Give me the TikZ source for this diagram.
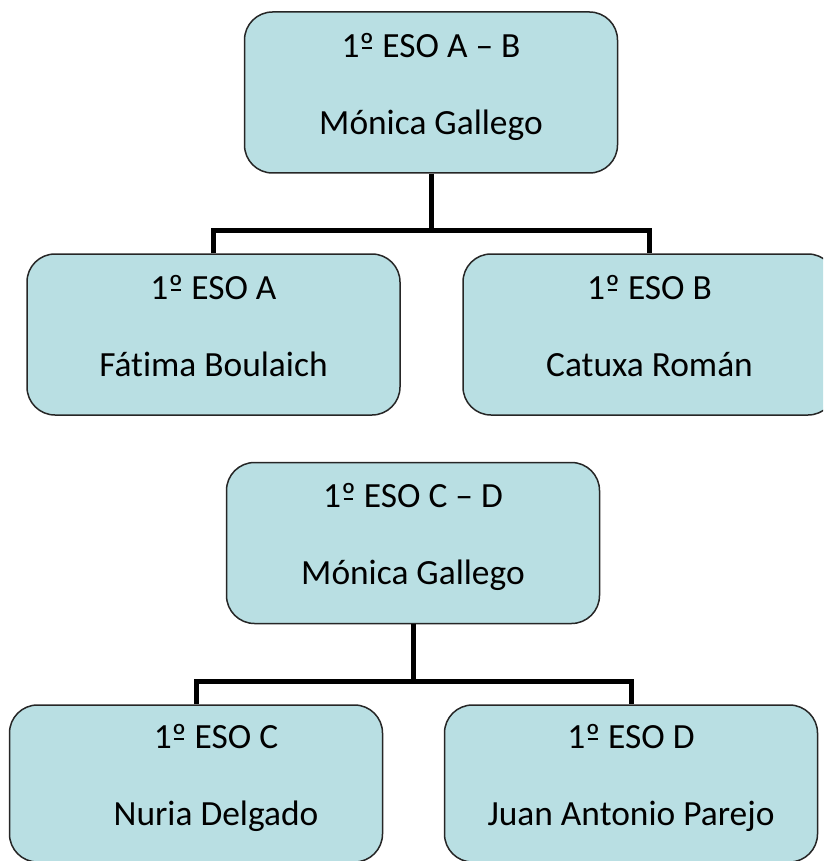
\documentclass[tikz,border=0pt]{standalone}
\usepackage{fontspec}
\setmainfont[Ligatures=NoCommon]{Carlito}
\definecolor{boxfill}{RGB}{185,223,227}
\newcommand{\ordbar}{\ooalign{º\cr\hidewidth\rule[8pt]{0.27em}{1.8pt}\hidewidth\cr}}

\begin{document}
\begin{tikzpicture}[x=1pt, y=-1pt,
  box/.style={draw=black!85, line width=1.5pt, fill=boxfill, rounded corners=28pt,
    minimum width=373pt, minimum height=161pt, inner sep=0pt, align=center,
    font=\fontsize{35.4}{42.5}\selectfont,
    execute at end node={\rule[-18pt]{0pt}{18pt}}},
  link/.style={line width=5pt}]
\useasboundingbox (0,0) rectangle (823,861);
\clip (0,0) rectangle (823,861);
% first group
\node[box] (ab) at (431,92.5) {1\ordbar{} ESO A – B\\[34.5pt]Mónica Gallego};
\node[box] (a) at (213.5,334.5) {1\ordbar{} ESO A\\[34.5pt]Fátima Boulaich};
\node[box] (b) at (649.5,334.5) {1\ordbar{} ESO B\\[34.5pt]Catuxa Román};
\draw[link] (ab.south) -- ++(0,57) coordinate (ab-bus);
\draw[link] (a.north) |- (ab-bus) -| (b.north);
% second group
\node[box] (cd) at (413,543) {1\ordbar{} ESO C – D\\[34.5pt]Mónica Gallego};
\node[box, minimum height=157pt] (c) at (196,783.5) {\hspace*{40pt}1\ordbar{} ESO C\\[34.5pt]\hspace*{40pt}Nuria Delgado};
\node[box, minimum height=157pt] (d) at (631,783.5) {1\ordbar{} ESO D\\[34.5pt]Juan Antonio Parejo};
\draw[link] (cd.south) -- ++(0,57) coordinate (cd-bus);
\draw[link] (c.north) |- (cd-bus) -| (d.north);
\end{tikzpicture}
\end{document}
